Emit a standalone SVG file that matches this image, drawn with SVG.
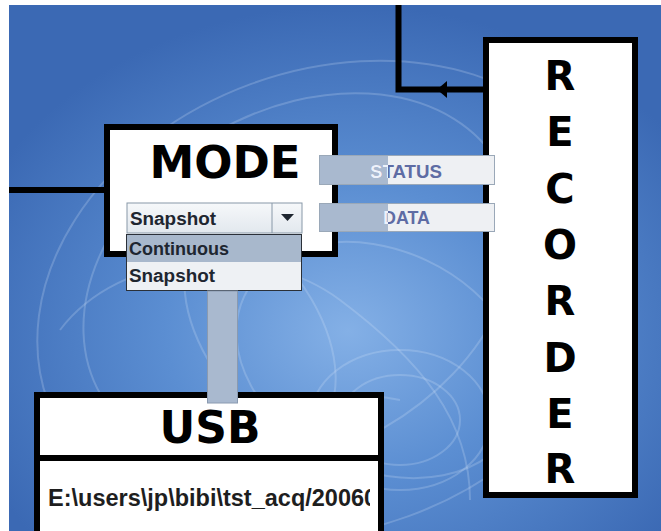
<svg xmlns="http://www.w3.org/2000/svg" width="661" height="531" viewBox="0 0 661 531">
<defs>
<radialGradient id="bg" cx="0.52" cy="0.62" r="0.62">
<stop offset="0" stop-color="#84b0e6"/>
<stop offset="0.45" stop-color="#5b8ed2"/>
<stop offset="1" stop-color="#3b69b4"/>
</radialGradient>
<linearGradient id="combo" x1="0" y1="0" x2="0" y2="1">
<stop offset="0" stop-color="#f6f8fa"/>
<stop offset="1" stop-color="#e2e8ee"/>
</linearGradient>
<clipPath id="pathClip"><rect x="40" y="470" width="330" height="50"/></clipPath>
<clipPath id="darkS"><rect x="319" y="155" width="69" height="30"/></clipPath>
<clipPath id="darkD"><rect x="319" y="203" width="69" height="29"/></clipPath>
</defs>
<style>
.box{fill:#fff;stroke:#000;stroke-width:6}
.big{font-family:"DejaVu Sans",Verdana,sans-serif;font-weight:bold;fill:#000;text-anchor:middle}
.wire{fill:none;stroke:#000;stroke-width:6}
.port{stroke:#9aa8b8;stroke-width:1}
.portTxt{font-family:"Liberation Sans",Arial,sans-serif;font-weight:bold;font-size:18px;fill:#5e6ca4}
.portTxtW{font-family:"Liberation Sans",Arial,sans-serif;font-weight:bold;font-size:18px;fill:#eef2fa}
.ui{font-family:"Liberation Sans",Arial,sans-serif;font-weight:bold;font-size:18px;fill:#1e2630}
.swirl{fill:none;stroke:#dbe8fa;stroke-opacity:0.22;stroke-width:2}
</style>
<rect x="0" y="0" width="661" height="531" fill="#ffffff"/>
<rect x="9" y="5" width="652" height="526" fill="url(#bg)"/>
<g id="background-swirls">
<ellipse class="swirl" cx="330" cy="300" rx="300" ry="230" transform="rotate(-20 330 300)"/>
<ellipse class="swirl" cx="300" cy="280" rx="230" ry="170" transform="rotate(-30 300 280)"/>
<ellipse class="swirl" cx="380" cy="360" rx="150" ry="110" transform="rotate(25 380 360)"/>
<ellipse class="swirl" cx="400" cy="420" rx="90" ry="70"/>
<ellipse class="swirl" cx="400" cy="420" rx="60" ry="45"/>
<ellipse class="swirl" cx="260" cy="330" rx="110" ry="60" transform="rotate(60 260 330)"/>
<path class="swirl" d="M60 330 C120 250 260 240 340 300 S470 420 470 500"/>
<path class="swirl" d="M150 520 C200 420 300 380 400 400"/>
</g>
<g id="recorder">
<rect class="box" x="486" y="40" width="149" height="455"/>
<g class="big" font-size="40">
<text x="560" y="90">R</text>
<text x="560" y="146">E</text>
<text x="560" y="203">C</text>
<text x="560" y="259">O</text>
<text x="560" y="315">R</text>
<text x="560" y="372">D</text>
<text x="560" y="428">E</text>
<text x="560" y="483">R</text>
</g>
</g>
<g id="mode">
<rect class="box" x="107" y="127" width="228" height="127"/>
<text class="big" x="225" y="178" font-size="45">MODE</text>
<g id="mode-combo">
<rect x="127" y="203" width="175" height="30" fill="url(#combo)" stroke="#8898a8" stroke-width="1"/>
<line x1="272" y1="203" x2="272" y2="233" stroke="#8898a8" stroke-width="1"/>
<polygon points="281,214 294,214 287.5,221" fill="#1e2630"/>
<text class="ui" x="130" y="225" textLength="86" lengthAdjust="spacingAndGlyphs">Snapshot</text>
</g>
</g>
<g id="mode-dropdown">
<rect x="126.5" y="234.5" width="175" height="56" fill="#eef1f4" stroke="#2a3038" stroke-width="1"/>
<rect x="127" y="235" width="174" height="27" fill="#a8b8cc"/>
<text class="ui" x="129" y="255" textLength="100" lengthAdjust="spacingAndGlyphs" fill="#1c2a40">Continuous</text>
<text class="ui" x="129" y="282" textLength="86" lengthAdjust="spacingAndGlyphs">Snapshot</text>
</g>
<g id="usb">
<rect class="box" x="37" y="395" width="344" height="160"/>
<line x1="37" y1="458" x2="381" y2="458" stroke="#000" stroke-width="6"/>
<text class="big" x="210" y="443" font-size="44">USB</text>
<text clip-path="url(#pathClip)" x="48" y="506" font-family="'Liberation Sans',Arial,sans-serif" font-weight="bold" font-size="23.5" fill="#1e1e1e">E:\users\jp\bibi\tst_acq/20060</text>
</g>
<g id="connectors">
<line class="wire" x1="9" y1="190" x2="105" y2="190"/>
<polyline class="wire" points="398.5,5 398.5,89.5 484,89.5"/>
<polygon points="437,89.5 447,81 447,98" fill="#000"/>
<rect x="207.5" y="291" width="30" height="112" fill="#a9b9cf" stroke="#8a9ab0" stroke-width="1"/>
<g id="status-port">
<rect class="port" x="319.5" y="155.5" width="175" height="29" fill="#eef0f3"/>
<rect x="320" y="156" width="68" height="28" fill="#a9b9cf"/>
<text class="portTxt" x="370" y="178" textLength="72" lengthAdjust="spacingAndGlyphs">STATUS</text>
<text class="portTxtW" clip-path="url(#darkS)" x="370" y="178" textLength="72" lengthAdjust="spacingAndGlyphs">STATUS</text>
</g>
<g id="data-port">
<rect class="port" x="319.5" y="203.5" width="175" height="28" fill="#eef0f3"/>
<rect x="320" y="204" width="68" height="27" fill="#a9b9cf"/>
<text class="portTxt" x="383" y="224" textLength="47" lengthAdjust="spacingAndGlyphs">DATA</text>
<text class="portTxtW" clip-path="url(#darkD)" x="383" y="224" textLength="47" lengthAdjust="spacingAndGlyphs">DATA</text>
</g>
</g>
</svg>
